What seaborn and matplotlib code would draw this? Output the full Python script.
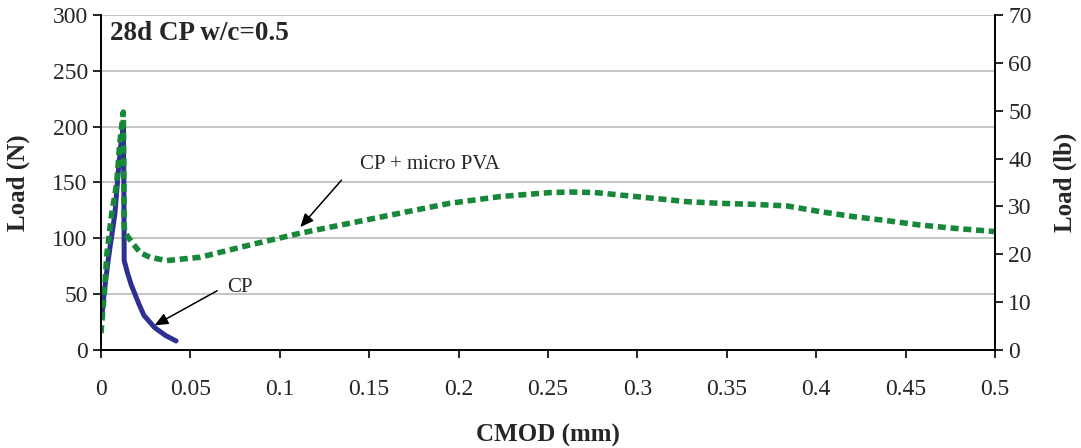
import numpy as np
import pandas as pd
import seaborn as sns
import matplotlib.pyplot as plt

# CMOD (mm) vs load (N)
cp_cmod = [0.0005, 0.0017, 0.004, 0.0078, 0.0097, 0.0112, 0.0125, 0.0128, 0.013,
           0.015, 0.017, 0.021, 0.024, 0.030, 0.036, 0.042]
cp_load = [30, 50, 80, 122, 160, 185, 200, 150, 80,
           68, 58, 42, 31, 20, 13, 8]

pva_cmod = [0.0, 0.0019, 0.0032, 0.006, 0.0088, 0.0105, 0.0125, 0.0128, 0.013, 0.0135,
            0.017, 0.022, 0.0274, 0.0367, 0.0554, 0.0833, 0.1113, 0.139, 0.167,
            0.195, 0.223, 0.251, 0.262, 0.276, 0.290, 0.309, 0.3276, 0.346, 0.365,
            0.3835, 0.402, 0.4208, 0.4394, 0.458, 0.4767, 0.500]
pva_load = [15, 51, 84, 122, 149, 185, 213, 160, 110, 105,
            97, 87, 83, 80, 83, 94, 104.5, 113.4, 122.4,
            131.3, 137.3, 140.9, 141.4, 141, 138.8, 135.8, 132.8, 131.3, 130.4,
            129, 123.9, 119.4, 115.8, 111.9, 109, 106]

left_ticks = [0, 50, 100, 150, 200, 250, 300]
right_ticks = [0, 10, 20, 30, 40, 50, 60, 70]
x_ticks = [0, 0.05, 0.1, 0.15, 0.2, 0.25, 0.3, 0.35, 0.4, 0.45, 0.5]
x_labels = ["0", "0.05", "0.1", "0.15", "0.2", "0.25", "0.3",
            "0.35", "0.4", "0.45", "0.5"]

cp = pd.DataFrame({"CMOD": cp_cmod, "Load": cp_load})
pva = pd.DataFrame({"CMOD": pva_cmod, "Load": pva_load})

sns.set_style("ticks")
plt.rcParams["font.family"] = ["Liberation Serif", "DejaVu Serif"]

fig = plt.figure(figsize=(10.81, 4.48), dpi=100)
ax = fig.add_axes([0.0934, 0.219, 0.827, 0.7475])

ax.set_axisbelow(True)
ax.yaxis.grid(True, color="#c4c4c4", linewidth=1.4)

sns.lineplot(data=cp, x="CMOD", y="Load", ax=ax, color="#2e3192",
             linewidth=3.6, sort=False, estimator=None)
sns.lineplot(data=pva, x="CMOD", y="Load", ax=ax, color="#17883a",
             linewidth=4, sort=False, estimator=None)
ax.lines[-1].set_dashes((1.45, 0.85))
ax.lines[-1].set_dash_capstyle("butt")

ax.set_xlim(0, 0.5)
ax.set_ylim(0, 300)
ax.set_xticks(x_ticks)
ax.set_xticklabels(x_labels)
ax.set_yticks(left_ticks)
ax.tick_params(axis="both", labelsize=17, length=6, width=1.2, color="black")
ax.tick_params(axis="x", pad=15)
ax.set_xlabel("CMOD (mm)", fontsize=18, fontweight="bold", labelpad=17)
ax.set_ylabel("Load (N)", fontsize=18, fontweight="bold", labelpad=16)
for side in ["left", "bottom"]:
    ax.spines[side].set_color("black")
    ax.spines[side].set_linewidth(1.4)
ax.spines["top"].set_visible(False)
ax.spines["right"].set_visible(False)

ax2 = ax.twinx()
ax2.set_ylim(0, 70)
ax2.set_yticks(right_ticks)
ax2.tick_params(axis="y", labelsize=17, length=6, width=1.2, color="black")
ax2.set_ylabel("Load (lb)", fontsize=18, fontweight="bold", labelpad=16)
ax2.spines["right"].set_color("black")
ax2.spines["right"].set_linewidth(1.4)
for side in ["top", "left", "bottom"]:
    ax2.spines[side].set_visible(False)

ax.text(0.005, 283, "28d CP w/c=0.5", fontsize=19.5, fontweight="bold",
        ha="left", va="center")

ax.text(0.145, 166, "CP + micro PVA", fontsize=15, ha="left", va="center")
ax.annotate("", xy=(0.1115, 110), xytext=(0.1345, 152),
            arrowprops=dict(arrowstyle="-|>,head_length=0.8,head_width=0.35",
                            color="black", lw=1.1, shrinkA=0, shrinkB=0))

ax.text(0.0777, 56, "CP", fontsize=15, ha="center", va="center")
ax.annotate("", xy=(0.030, 22), xytext=(0.0650, 53),
            arrowprops=dict(arrowstyle="-|>,head_length=0.8,head_width=0.35",
                            color="black", lw=1.1, shrinkA=0, shrinkB=0))

fig.savefig("out.png", dpi=100)
